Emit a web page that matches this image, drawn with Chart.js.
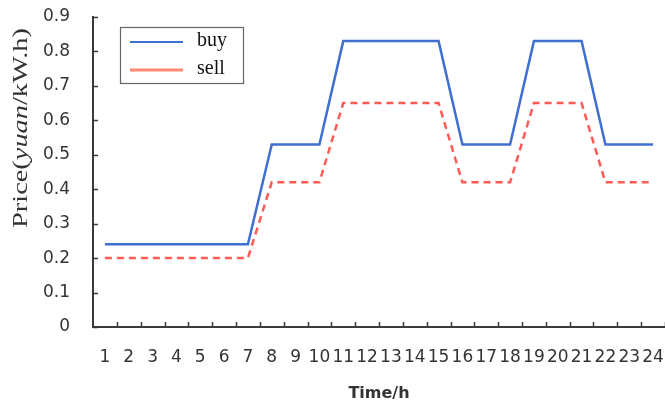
<!DOCTYPE html>
<html lang="en">
  <head>
    <meta charset="UTF-8" />
    <title>Buy / sell price</title>
    <script src="https://cdn.jsdelivr.net/npm/chart.js"></script>
    <style>
      body { margin: 0; background: #fff; }
    </style>
  </head>
  <body>
    <canvas id="myChart" width="665" height="411"></canvas>

    <script>
      // hours of the day (x labels)
      const hours = ["1", "2", "3", "4", "5", "6", "7", "8", "9", "10", "11", "12",
        "13", "14", "15", "16", "17", "18", "19", "20", "21", "22", "23", "24"];

      // electricity prices, yuan/kW.h
      const buyPrice = [0.24, 0.24, 0.24, 0.24, 0.24, 0.24, 0.24, 0.53, 0.53, 0.53, 0.83, 0.83,
        0.83, 0.83, 0.83, 0.53, 0.53, 0.53, 0.83, 0.83, 0.83, 0.53, 0.53, 0.53];
      const sellPrice = [0.2, 0.2, 0.2, 0.2, 0.2, 0.2, 0.2, 0.42, 0.42, 0.42, 0.65, 0.65,
        0.65, 0.65, 0.65, 0.42, 0.42, 0.42, 0.65, 0.65, 0.65, 0.42, 0.42, 0.42];

      const axisColor = "#3a3a3a";

      // small inward tick marks on both axes
      const innerTicks = {
        id: "innerTicks",
        afterDraw(chart) {
          const ctx = chart.ctx;
          const x = chart.scales.x, y = chart.scales.y;
          ctx.save();
          ctx.strokeStyle = axisColor;
          ctx.lineWidth = 1.5;
          ctx.beginPath();
          y.ticks.forEach((t, i) => {
            const py = Math.round(y.getPixelForTick(i)) + 0.5;
            ctx.moveTo(x.left, py);
            ctx.lineTo(x.left + 5, py);
          });
          // category boundaries
          const step = x.getPixelForTick(1) - x.getPixelForTick(0);
          for (let i = 0; i < hours.length; i++) {
            const px = Math.round(x.getPixelForTick(i) + step / 2) + 0.5;
            ctx.moveTo(px, y.bottom);
            ctx.lineTo(px, y.bottom - 5);
          }
          ctx.stroke();
          ctx.restore();
        },
      };

      // legend box inside the plot + y axis title with italic unit
      const extras = {
        id: "extras",
        afterDraw(chart) {
          const ctx = chart.ctx;
          const area = chart.chartArea;
          ctx.save();

          // legend
          const bx = area.left + 27, by = area.top + 10;
          ctx.strokeStyle = "#666";
          ctx.lineWidth = 1.2;
          ctx.strokeRect(bx + 0.5, by + 0.5, 123, 56);
          ctx.font = "20px 'Liberation Serif'";
          ctx.textBaseline = "middle";
          ctx.fillStyle = "#111";
          const items = [
            { label: chart.data.datasets[0].label, color: "#3f6fd0", width: 2 },
            { label: chart.data.datasets[1].label, color: "#ff8a70", width: 3 },
          ];
          items.forEach((it, i) => {
            const ly = by + 15 + i * 28;
            ctx.strokeStyle = it.color;
            ctx.lineWidth = it.width;
            ctx.beginPath();
            ctx.moveTo(bx + 10, ly);
            ctx.lineTo(bx + 63, ly);
            ctx.stroke();
            ctx.fillText(it.label, bx + 77, ly - 1);
          });

          // y axis title
          ctx.translate(21, 128);
          ctx.rotate(-Math.PI / 2);
          const parts = [
            ["Price(", "21px 'Liberation Serif'"],
            ["yuan", "italic 21px 'Liberation Serif'"],
            ["/kW.h)", "21px 'Liberation Serif'"],
          ];
          let total = 0;
          parts.forEach((p) => { ctx.font = p[1]; total += ctx.measureText(p[0]).width; });
          const stretch = 200 / total;
          ctx.scale(stretch, 1);
          let cx = -total / 2;
          ctx.fillStyle = "#333";
          ctx.textAlign = "left";
          ctx.textBaseline = "middle";
          parts.forEach((p) => {
            ctx.font = p[1];
            ctx.fillText(p[0], cx, 0);
            cx += ctx.measureText(p[0]).width;
          });
          ctx.restore();
        },
      };

      const noOverflow = (scale) => {
        scale.paddingTop = 0;
        scale.paddingBottom = 0;
        scale.paddingLeft = 0;
        scale.paddingRight = 0;
      };

      const ctx = document.getElementById("myChart").getContext("2d");
      const myChart = new Chart(ctx, {
        type: "line",
        data: {
          labels: hours,
          datasets: [
            {
              label: "buy",
              data: buyPrice,
              borderColor: "#3f6fd0",
              borderWidth: 2.5,
              pointRadius: 0,
              tension: 0,
            },
            {
              label: "sell",
              data: sellPrice,
              borderColor: "#ff5a55",
              borderWidth: 2.5,
              borderDash: [7, 5],
              pointRadius: 0,
              tension: 0,
            },
          ],
        },
        options: {
          responsive: false,
          animation: false,
          layout: { padding: { top: 17, right: 0, left: 0, bottom: 0 } },
          plugins: {
            legend: { display: false },
            tooltip: { enabled: false },
          },
          scales: {
            x: {
              offset: true,
              afterFit: (scale) => { scale.height = 84; noOverflow(scale); },
              grid: { display: true, drawOnChartArea: false, drawTicks: false },
              border: { display: true, color: axisColor, width: 2 },
              ticks: {
                autoSkip: false,
                maxRotation: 0,
                padding: 20,
                color: "#333",
                font: { family: "DejaVu Sans", size: 17 },
              },
              title: {
                display: true,
                text: "Time/h",
                color: "#333",
                font: { family: "DejaVu Sans", size: 16, weight: "bold" },
                padding: { top: 0, bottom: 8 },
              },
            },
            y: {
              min: 0,
              max: 0.9,
              afterFit: (scale) => { scale.width = 93; noOverflow(scale); },
              grid: { display: true, drawOnChartArea: false, drawTicks: false },
              border: { display: true, color: axisColor, width: 2 },
              ticks: {
                stepSize: 0.1,
                padding: 23,
                color: "#333",
                font: { family: "DejaVu Sans", size: 17 },
                callback: (v) => (v === 0 ? "0" : v.toFixed(1)),
              },
            },
          },
        },
        plugins: [innerTicks, extras],
      });
    </script>
  </body>
</html>
